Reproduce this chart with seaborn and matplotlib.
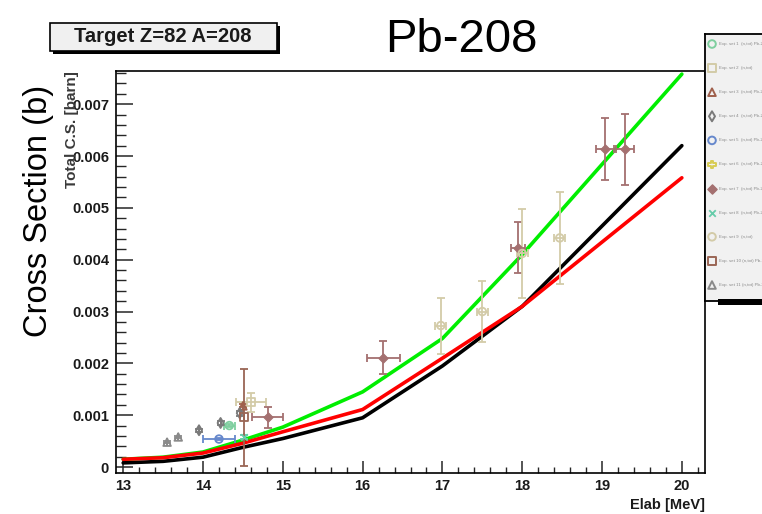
import numpy as np
import pandas as pd
import seaborn as sns
import matplotlib
matplotlib.use("Agg")
import matplotlib.pyplot as plt
from matplotlib.patches import Rectangle
from matplotlib.ticker import FixedLocator, MultipleLocator

# ---- model curves: total cross section vs. incident energy ----
energy = [13.0, 13.5, 14.0, 14.5, 15.0, 16.0, 17.0, 18.0, 19.0, 20.0]
green_cs = [0.00015, 0.00019, 0.00029, 0.00052, 0.00077, 0.00145, 0.00248, 0.00410, 0.00584, 0.00758]
red_cs = [0.00015, 0.00018, 0.00027, 0.00046, 0.00068, 0.00111, 0.00210, 0.00310, 0.00434, 0.00558]
black_cs = [0.00008, 0.00011, 0.00019, 0.00038, 0.00055, 0.00095, 0.00195, 0.00310, 0.00465, 0.00620]

# ---- experimental data sets: (E, dE, sigma, dsigma) ----
set_green_circle = {"e": [14.33], "de": [0.07], "s": [0.00080], "ds": [0.00003]}
set_tan_square = {"e": [14.60], "de": [0.19], "s": [0.00125], "ds": [0.00018]}
set_brown_tri = {"e": [14.50], "de": [0.0], "s": [0.00118], "ds": [0.00003]}
set_gray_diamond = {"e": [13.95, 14.22, 14.46], "de": [0.0, 0.0, 0.0],
                    "s": [0.00071, 0.00085, 0.00104], "ds": [0.00003, 0.00003, 0.00005]}
set_blue_circle = {"e": [14.20], "de": [0.20], "s": [0.00054], "ds": [0.00002]}
set_brown_diamond = {"e": [14.81, 16.26, 17.95, 19.04, 19.29],
                     "de": [0.19, 0.21, 0.09, 0.11, 0.11],
                     "s": [0.00096, 0.00211, 0.00423, 0.00613, 0.00613],
                     "ds": [0.00020, 0.00032, 0.00049, 0.00060, 0.00068]}
set_green_x = {"e": [14.51], "de": [0.0], "s": [0.00058], "ds": [0.00003]}
set_tan_circle = {"e": [16.98, 17.50, 18.00, 18.47], "de": [0.07, 0.07, 0.07, 0.07],
                  "s": [0.00273, 0.00300, 0.00412, 0.00442],
                  "ds": [0.00054, 0.00059, 0.00085, 0.00088]}
set_brown_square = {"e": [14.51], "de": [0.0], "s": [0.00096], "ds": [0.00094]}
set_gray_tri = {"e": [13.55, 13.69], "de": [0.0, 0.0], "s": [0.00048, 0.00058], "ds": [0.00002, 0.00002]}

y_ticks = [0.0, 0.001, 0.002, 0.003, 0.004, 0.005, 0.006, 0.007]
y_tick_labels = ["0", "0.001", "0.002", "0.003", "0.004", "0.005", "0.006", "0.007"]
x_ticks = [13, 14, 15, 16, 17, 18, 19, 20]

legend_labels = [
    "Exp. set 1  (n,tot) Pb-208",
    "Exp. set 2  (n,tot)",
    "Exp. set 3  (n,tot) Pb-208",
    "Exp. set 4  (n,tot) Pb-208",
    "Exp. set 5  (n,tot) Pb-208",
    "Exp. set 6  (n,tot) Pb-208",
    "Exp. set 7  (n,tot) Pb-208",
    "Exp. set 8  (n,tot) Pb-208",
    "Exp. set 9  (n,tot)",
    "Exp. set 10 (n,tot) Pb-208",
    "Exp. set 11 (n,tot) Pb-208",
]

W, H = 762, 514
sns.set_style("white")
plt.rcParams["font.family"] = ["Liberation Sans", "DejaVu Sans"]

fig = plt.figure(figsize=(W / 100, H / 100), dpi=100)
fig.patch.set_facecolor("white")


def fx(px):
    return px / W


def fy(py):
    return 1 - py / H


ax_l, ax_r, ax_t, ax_b = 116, 705, 71, 473
ax = fig.add_axes([fx(ax_l), fy(ax_b), fx(ax_r - ax_l), (ax_b - ax_t) / H])
ax.set_facecolor("white")

# curves
curves = pd.DataFrame({"E": energy, "green": green_cs, "red": red_cs, "black": black_cs})
sns.lineplot(data=curves, x="E", y="green", color="#00ee00", lw=2.6, ax=ax, zorder=3)
sns.lineplot(data=curves, x="E", y="black", color="black", lw=2.6, ax=ax, zorder=4)
sns.lineplot(data=curves, x="E", y="red", color="#ff0000", lw=2.6, ax=ax, zorder=5)

# data sets: (data, marker, colour, filled, size)
styles = [
    (set_green_circle, "o", "#7fcf9f", False, 30),
    (set_tan_square, "s", "#d3cba8", False, 30),
    (set_brown_tri, "^", "#a0604c", False, 30),
    (set_gray_diamond, "d", "#7a7a7a", False, 26),
    (set_blue_circle, "o", "#6688cc", False, 30),
    (None, "P", "#d8cc55", False, 30),
    (set_brown_diamond, "D", "#a47070", True, 22),
    (set_green_x, "x", "#66ccaa", False, 22),
    (set_tan_circle, "o", "#d3cba8", False, 30),
    (set_brown_square, "s", "#9a6655", False, 34),
    (set_gray_tri, "^", "#8a8a8a", False, 30),
]

for data, marker, col, filled, size in styles:
    if data is None:
        continue
    ax.errorbar(data["e"], data["s"], xerr=data["de"], yerr=data["ds"], fmt="none",
                ecolor=col, elinewidth=1.3, capsize=3.2, capthick=1.3, zorder=6)
    df = pd.DataFrame({"E": data["e"], "S": data["s"]})
    n_before = len(ax.collections)
    if marker == "x":
        sns.scatterplot(data=df, x="E", y="S", marker=marker, s=size, color=col,
                        linewidth=1.3, ax=ax, zorder=7, legend=False)
    elif filled:
        sns.scatterplot(data=df, x="E", y="S", marker=marker, s=size, color=col,
                        edgecolor=col, linewidth=0.8, ax=ax, zorder=7, legend=False)
    else:
        sns.scatterplot(data=df, x="E", y="S", marker=marker, s=size, color=col,
                        edgecolor=col, linewidth=1.3, ax=ax, zorder=7, legend=False)
        # hollow symbols: keep only the outline
        for coll in ax.collections[n_before:]:
            coll.set_facecolor("none")
            coll.set_edgecolor(col)

ax.set_xlim(12.91, 20.29)
ax.set_ylim(-0.000115, 0.00764)
ax.set_xlabel("")
ax.set_ylabel("")

ax.xaxis.set_major_locator(FixedLocator(x_ticks))
ax.xaxis.set_minor_locator(MultipleLocator(0.2))
ax.yaxis.set_major_locator(FixedLocator(y_ticks))
ax.yaxis.set_minor_locator(MultipleLocator(0.0002))
ax.set_yticklabels(y_tick_labels)
ax.set_xticklabels([str(t) for t in x_ticks])

ax.tick_params(axis="y", which="major", direction="in", length=12, width=1.1,
               left=True, right=False, pad=5, labelsize=10.5, labelcolor="#1a1a1a")
ax.tick_params(axis="y", which="minor", direction="in", length=7, width=1.0, left=True, right=False)
ax.tick_params(axis="x", which="major", direction="in", length=8.5, width=1.1,
               bottom=True, top=False, pad=4, labelsize=10.5, labelcolor="#1a1a1a")
ax.tick_params(axis="x", which="minor", direction="in", length=4.3, width=1.0, bottom=True, top=False)
for lab in ax.get_xticklabels() + ax.get_yticklabels():
    lab.set_fontweight("bold")

for side in ["left", "right", "top", "bottom"]:
    ax.spines[side].set_visible(True)
    ax.spines[side].set_color("black")
    ax.spines[side].set_linewidth(1.2)

# axis titles
fig.text(fx(72), fy(71), "Total C.S. [barn]", rotation=90, ha="center", va="top",
         fontsize=11, fontweight="bold", color="#3a3a3a")
fig.text(fx(705), fy(505), "Elab [MeV]", ha="right", va="center",
         fontsize=10.5, fontweight="bold", color="#1a1a1a")
fig.text(fx(39), fy(211), "Cross Section (b)", rotation=90, ha="center", va="center",
         fontsize=23.5, color="black")
fig.text(fx(461), fy(52), "Pb-208", ha="center", va="baseline", fontsize=34, color="black")

# target label box with drop shadow
fig.patches.append(Rectangle((fx(53), fy(54)), fx(227), 28 / H, transform=fig.transFigure,
                             facecolor="black", edgecolor="none", zorder=1))
fig.patches.append(Rectangle((fx(50), fy(51)), fx(227), 28 / H, transform=fig.transFigure,
                             facecolor="#f0f0f0", edgecolor="black", linewidth=1.2, zorder=2))
fig.text(fx(163), fy(37), "Target Z=82 A=208", ha="center", va="center",
         fontsize=14.5, fontweight="bold", color="#1a1a1a", zorder=3)

# legend panel with drop shadow
fig.patches.append(Rectangle((fx(718), fy(305)), fx(60), 6 / H, transform=fig.transFigure,
                             facecolor="black", edgecolor="none", zorder=1))
leg = fig.add_axes([fx(705), fy(301), fx(70), (301 - 34) / H])
leg.set_facecolor("#f1f1f1")
for side in leg.spines.values():
    side.set_color("black")
    side.set_linewidth(1.3)
leg.set_xlim(0, 70)
leg.set_ylim(301, 34)
leg.set_xticks([])
leg.set_yticks([])
for i, ((data, marker, col, filled, size), label) in enumerate(zip(styles, legend_labels)):
    yy = 44 + 24.1 * i
    if marker == "x":
        leg.scatter([7], [yy], marker=marker, s=size, color=col, linewidth=1.3)
    elif filled:
        leg.scatter([7], [yy], marker=marker, s=size, color=col)
    else:
        leg.scatter([7], [yy], marker=marker, s=size, facecolor="none", edgecolor=col, linewidth=1.4)
    leg.text(14, yy, label, fontsize=3.2, color="#8a8a8a", va="center", ha="left")

fig.savefig("out.png", dpi=100)
